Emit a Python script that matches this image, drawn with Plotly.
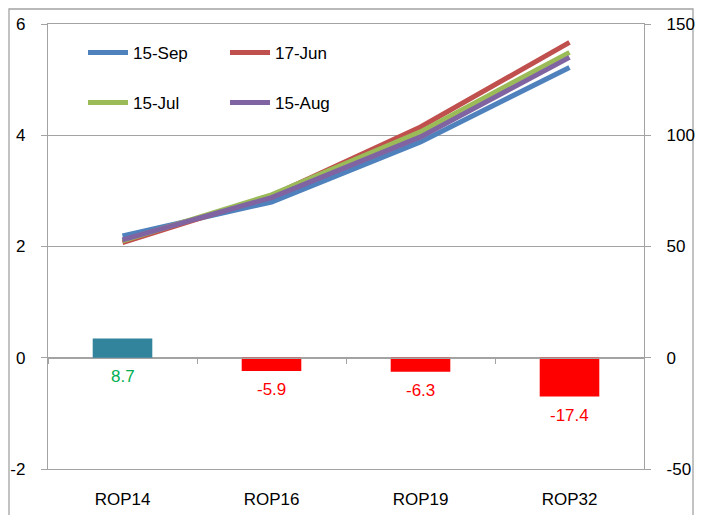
import plotly.graph_objects as go

# Categories and series
categories = ["ROP14", "ROP16", "ROP19", "ROP32"]
sep15 = [2.19, 2.80, 3.88, 5.22]
jun17 = [2.07, 2.91, 4.15, 5.67]
jul15 = [2.10, 2.93, 4.06, 5.49]
aug15 = [2.12, 2.88, 3.97, 5.40]
change = [8.7, -5.9, -6.3, -17.4]

left_ticks = [-2, 0, 2, 4, 6]
left_text = ["-2", "0", "2", "4", "6"]
right_ticks = [-50, 0, 50, 100, 150]
right_text = ["-50", "0", "50", "100", "150"]

FONT = "Liberation Sans, Arial, sans-serif"
FS = 17
GRID = "#A3A3A3"

fig = go.Figure()

# change bars on the right axis
bar_colors = ["#31849B" if v > 0 else "#FF0000" for v in change]
fig.add_trace(go.Bar(
    x=categories, y=change, yaxis="y2", marker=dict(color=bar_colors, line=dict(width=0)),
    width=0.4, showlegend=False, hoverinfo="skip",
))

# lines on the left axis
series = [
    ("15-Sep", sep15, "#4F81BD", "legend"),
    ("17-Jun", jun17, "#C0504D", "legend"),
    ("15-Jul", jul15, "#9BBB59", "legend2"),
    ("15-Aug", aug15, "#8064A2", "legend2"),
]
for name, vals, color, lg in series:
    fig.add_trace(go.Scatter(
        x=categories, y=vals, name=name, mode="lines",
        line=dict(color=color, width=5), legend=lg,
    ))

# carrier for the category tick axis that sits on the zero line
fig.add_trace(go.Scatter(
    x=categories, y=[None] * len(categories), xaxis="x3", yaxis="y",
    showlegend=False, hoverinfo="skip", mode="lines",
))

# value labels below the bars
for c, v in zip(categories, change):
    fig.add_annotation(
        x=c, y=min(v, 0), xref="x", yref="y2", text=f"{v:.1f}",
        showarrow=False, yanchor="middle", yshift=-19,
        font=dict(color="#00B050" if v > 0 else "#FF0000", size=FS, family=FONT),
    )

# chart border
fig.add_shape(type="rect", xref="paper", yref="paper",
              x0=(9 - 48) / 596, x1=(693 - 48) / 596,
              y0=(469 - 530) / 445, y1=(469 - 9) / 445,
              line=dict(color=GRID, width=1.3), layer="below")

fig.update_layout(
    width=701, height=515,
    margin=dict(l=48, r=57, t=24, b=46),
    paper_bgcolor="white", plot_bgcolor="white",
    font=dict(family=FONT, size=FS, color="black"),
    bargap=0.6,
    xaxis=dict(
        type="category", categoryarray=categories, range=[-0.5, 3.5],
        showline=True, mirror=True, linecolor=GRID, linewidth=1.3,
        ticks="", showgrid=False, ticklabelstandoff=14, automargin=False,
        tickfont=dict(size=FS),
    ),
    xaxis3=dict(
        type="category", categoryarray=categories, range=[-0.5, 3.5],
        overlaying="x", anchor="free", position=0.25, automargin=False,
        tickson="boundaries", ticks="outside", ticklen=5, tickcolor=GRID, tickwidth=1.3,
        showticklabels=False, showline=True, linecolor=GRID, linewidth=1.3, showgrid=False,
    ),
    yaxis=dict(
        range=[-2, 6], tickvals=left_ticks, ticktext=left_text,
        showgrid=True, gridcolor=GRID, gridwidth=1.3,
        zeroline=False, showline=True, linecolor=GRID, linewidth=1.3,
        ticks="outside", ticklen=6, tickcolor=GRID, tickwidth=1.3,
        ticklabelstandoff=12, tickfont=dict(size=FS), automargin=False,
    ),
    yaxis2=dict(
        range=[-50, 150], tickvals=right_ticks, ticktext=right_text,
        overlaying="y", side="right",
        showgrid=False, zeroline=False, showline=True, linecolor=GRID, linewidth=1.3,
        ticks="outside", ticklen=6, tickcolor=GRID, tickwidth=1.3,
        ticklabelstandoff=12, tickfont=dict(size=FS), automargin=False,
    ),
    legend=dict(
        orientation="h", x=(83 - 48) / 596, xanchor="left",
        y=(469 - 53) / 445, yanchor="middle", entrywidth=87, entrywidthmode="pixels",
        bgcolor="rgba(0,0,0,0)", font=dict(size=FS), itemwidth=40,
    ),
    legend2=dict(
        orientation="h", x=(83 - 48) / 596, xanchor="left",
        y=(469 - 103) / 445, yanchor="middle", entrywidth=87, entrywidthmode="pixels",
        bgcolor="rgba(0,0,0,0)", font=dict(size=FS), itemwidth=40,
    ),
)

fig.write_html("out.html")
